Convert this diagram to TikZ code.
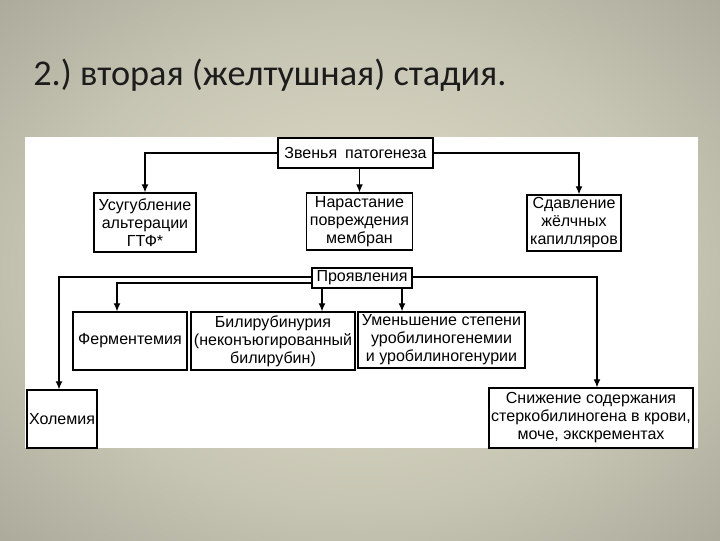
\documentclass[tikz,border=0pt]{standalone}
\usepackage{fontspec}
\setmainfont{Liberation Sans}
\newfontfamily\titlefont{Carlito}
\usetikzlibrary{positioning, arrows.meta}
\definecolor{slidein}{HTML}{E4E1CD}
\definecolor{slidemid}{HTML}{C6C4B2}
\definecolor{slideedge}{HTML}{A09E90}
\definecolor{slideout}{HTML}{8A887B}
\definecolor{titleink}{HTML}{1C1C1C}
\pgfdeclareradialshading{slideglow}{\pgfpoint{0bp}{0bp}}{color(0bp)=(slidein); color(22bp)=(slidemid); color(42bp)=(slideedge); color(58bp)=(slideout)}

\begin{document}
\begin{tikzpicture}[x=0.025cm, y=-0.025cm,
  n/.style={draw, line width=0.9pt, fill=white, inner sep=1pt, align=center, font=\fontsize{11.4}{12.8}\selectfont},
  arrow/.style={-{Latex[length=2mm, width=1.7mm]}, line width=0.8pt}
]
  % slide background
  \shade[shading=slideglow] (0,0) rectangle (720,540);
  \useasboundingbox (0,0) rectangle (720,540);
  \node[anchor=base west, text=titleink, font=\titlefont\fontsize{25.8}{30}\selectfont, inner sep=0] (title) at (33,85) {2.)\ вторая (желтушная) стадия.};
  \fill[white] (25,137) rectangle (698,448);

  \node[n, minimum width=3.875cm, minimum height=0.75cm] (zveno) at (355.5,153) {Звенья\enspace патогенеза};
  \node[n, minimum width=2.55cm, minimum height=1.475cm] (usug) at (145,222.5) {Усугубление\\альтерации\\ГТФ*};
  \node[n, minimum width=2.65cm, minimum height=1.425cm] (narast) at (359.5,221.5) {Нарастание\\повреждения\\мембран};
  \node[n, minimum width=2.35cm, minimum height=1.4cm] (sdavl) at (574,223) {Сдавление\\жёлчных\\капилляров};

  \node[n, minimum width=2.5cm, minimum height=0.5cm] (proyav) at (362,278) {Проявления};
  \node[n, minimum width=2.85cm, minimum height=1.45cm] (ferm) at (130,341) {Ферментемия};
  \node[n, minimum width=4.1cm, minimum height=1.45cm] (bilir) at (273,341) {Билирубинурия\\(неконъюгированный\\билирубин)};
  \node[n, minimum width=4.175cm, minimum height=1.4cm] (umensh) at (441.5,340) {Уменьшение степени\\уробилиногенемии\\и уробилиногенурии};
  \node[n, minimum width=1.75cm, minimum height=1.45cm] (holem) at (62,419) {Холемия};
  \node[n, minimum width=5.1cm, minimum height=1.5cm] (snizh) at (591,418) {Снижение содержания\\стеркобилиногена в крови,\\моче, экскрементах};

  \draw[arrow] (zveno.west) -| (usug.north);
  \draw[arrow] (zveno.south -| narast.north) -- (narast.north);
  \draw[arrow] (zveno.east) -| ([xshift=0.125cm]sdavl.north);
  \draw[arrow] ([yshift=0.025cm]proyav.west) -| ([xshift=-0.075cm]holem.north);
  \draw[arrow] ([yshift=-0.125cm]proyav.west) -| ([xshift=-0.325cm]ferm.north);
  \draw[arrow] ([xshift=-1cm]proyav.south) -- ([xshift=-1cm]proyav.south |- bilir.north);
  \draw[arrow] ([xshift=1cm]proyav.south) -- ([xshift=1cm]proyav.south |- umensh.north);
  \draw[arrow] ([yshift=0.025cm]proyav.east) -| ([xshift=0.15cm]snizh.north);
\end{tikzpicture}
\end{document}
